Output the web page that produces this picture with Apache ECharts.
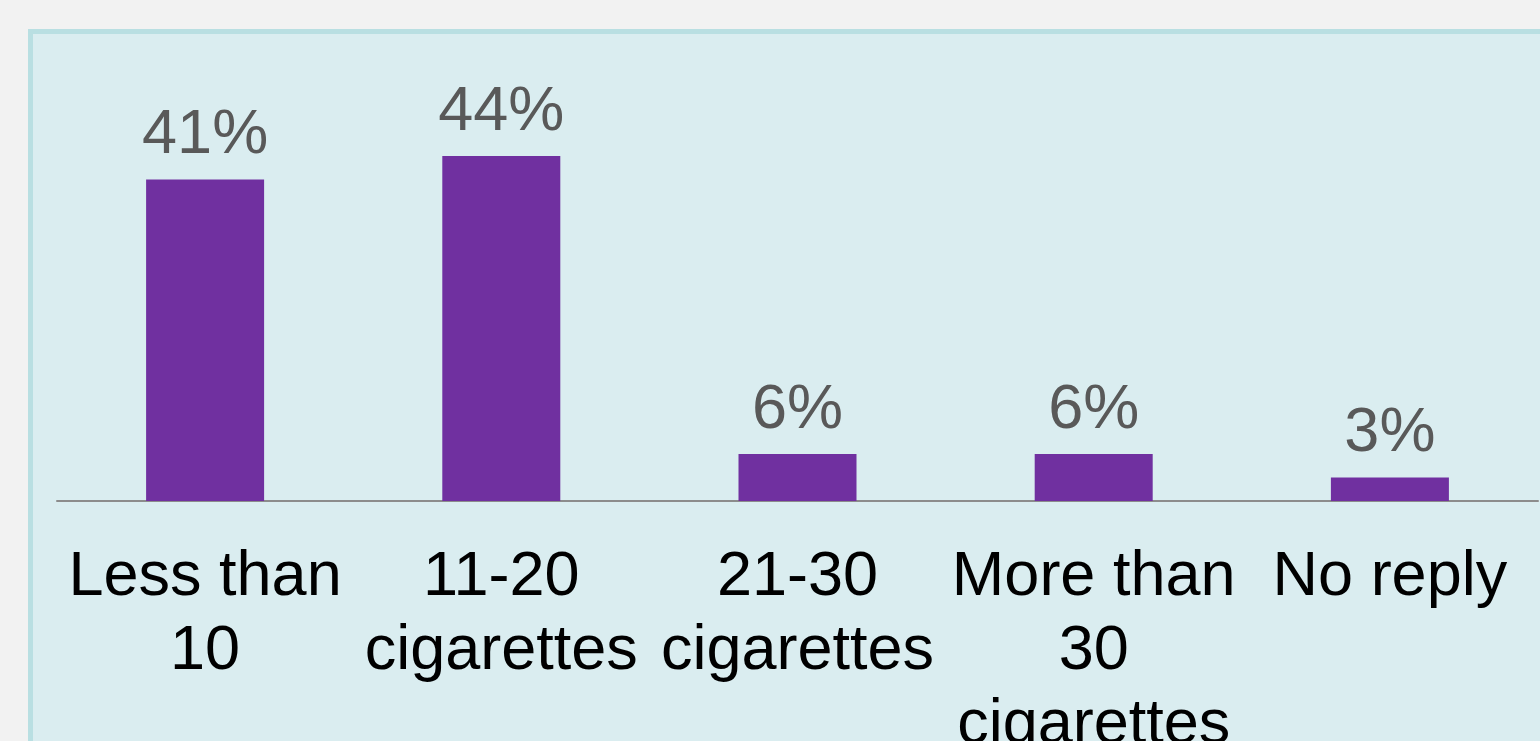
<!DOCTYPE html>
<html>
<head>
<meta charset="utf-8">
<style>
html,body{margin:0;padding:0;background:#f2f2f2;}
#c{width:1540px;height:741px;}
</style>
<script src="https://cdn.jsdelivr.net/npm/echarts@6/dist/echarts.min.js"></script>
</head>
<body>
<div id="c"></div>
<script>
var categories = ['Less than\n10', '11-20\ncigarettes', '21-30\ncigarettes', 'More than\n30\ncigarettes', 'No reply'];
var values = [41, 44, 6, 6, 3];

var chart = echarts.init(document.getElementById('c'));
chart.setOption({
  backgroundColor: '#f2f2f2',
  animation: false,
  graphic: [{
    type: 'rect',
    z: -10,
    shape: {x: 30.5, y: 31.5, width: 1600, height: 800},
    style: {fill: '#daedf0', stroke: '#b9dfe2', lineWidth: 5}
  }],
  grid: {left: 57, right: 2, top: 109, bottom: 240, containLabel: false, outerBoundsMode: 'none'},
  xAxis: {
    type: 'category',
    data: categories,
    axisLine: {show: true, lineStyle: {color: '#8c8c8c', width: 2}},
    axisTick: {show: false},
    axisLabel: {
      interval: 0,
      color: '#000000',
      fontFamily: 'Liberation Sans, Arial, sans-serif',
      fontSize: 63,
      lineHeight: 74,
      margin: 40
    }
  },
  yAxis: {
    type: 'value',
    min: 0,
    max: 50,
    show: false,
    splitLine: {show: false}
  },
  series: [{
    type: 'bar',
    data: values,
    barWidth: 118,
    itemStyle: {color: '#7030a0'},
    label: {
      show: true,
      position: 'top',
      distance: 12,
      formatter: '{c}%',
      color: '#595959',
      fontFamily: 'Liberation Sans, Arial, sans-serif',
      fontSize: 63
    }
  }]
});
</script>
</body>
</html>
